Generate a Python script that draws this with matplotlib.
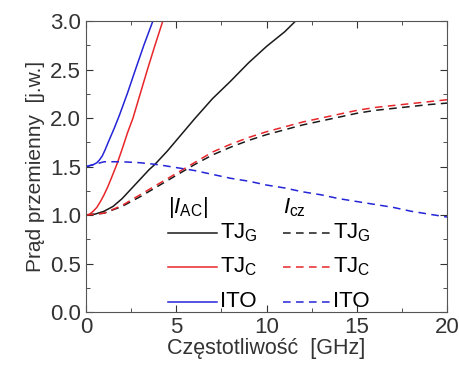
import matplotlib
matplotlib.use('Agg')
import matplotlib.pyplot as plt
from matplotlib.ticker import MultipleLocator

plt.rcParams['font.family'] = ['Liberation Sans', 'DejaVu Sans']
plt.rcParams['mathtext.fontset'] = 'custom'
plt.rcParams['mathtext.rm'] = 'Liberation Sans'
plt.rcParams['mathtext.it'] = 'Liberation Sans:italic'

# |I_AC| solid curves
f_tjg = [0, 0.5, 1, 1.5, 2, 2.5, 3, 3.5, 3.8, 4.5, 5, 6, 7, 7.5, 8, 9, 10, 11, 11.6]
a_tjg = [1.0, 1.01, 1.04, 1.09, 1.17, 1.27, 1.37, 1.47, 1.52, 1.66, 1.77, 1.99, 2.2, 2.29, 2.38, 2.57, 2.74, 2.89, 3.0]
f_tjc = [0, 0.2, 0.4, 0.6, 0.8, 1.0, 1.2, 1.4, 1.7, 2.0, 2.3, 2.6, 3.0, 3.4, 3.8, 4.25]
a_tjc = [1.0, 1.01, 1.04, 1.08, 1.14, 1.21, 1.29, 1.38, 1.52, 1.68, 1.85, 2.0, 2.25, 2.5, 2.74, 3.0]
f_ito = [0, 0.2, 0.4, 0.6, 0.75, 0.9, 1.05, 1.25, 1.55, 1.85, 2.3, 2.7, 3.2, 3.7]
a_ito = [1.5, 1.51, 1.52, 1.54, 1.57, 1.61, 1.67, 1.76, 1.89, 2.03, 2.26, 2.48, 2.75, 3.0]

# I_cz dashed curves
f_cz = [0, 1, 2, 3, 4, 5, 6, 7, 8, 9, 10, 11, 12, 13, 14, 15, 16, 17, 18, 19, 20]
c_tjg = [1.0, 1.02, 1.09, 1.19, 1.3, 1.41, 1.52, 1.62, 1.7, 1.77, 1.83, 1.88, 1.93, 1.97, 2.01, 2.05, 2.08, 2.1, 2.12, 2.14, 2.155]
c_tjc = [1.0, 1.02, 1.1, 1.21, 1.32, 1.43, 1.54, 1.65, 1.73, 1.8, 1.86, 1.91, 1.96, 2.0, 2.04, 2.08, 2.11, 2.13, 2.15, 2.17, 2.19]
c_ito = [1.5, 1.55, 1.55, 1.54, 1.52, 1.49, 1.46, 1.42, 1.38, 1.35, 1.31, 1.28, 1.24, 1.21, 1.17, 1.14, 1.11, 1.08, 1.04, 1.01, 0.98]

labels = ['TJ$_\\mathrm{G}$', 'TJ$_\\mathrm{C}$', 'ITO']
colors = ['#1a1a1a', '#e8262a', '#2424d8']
dash = (0, (5, 3.5))

fig = plt.figure(figsize=(4.6, 3.65), dpi=100)
ax = fig.add_axes([0.187, 0.145, 0.785, 0.797])

ax.plot(f_tjg, a_tjg, color=colors[0], lw=1.1)
ax.plot(f_tjc, a_tjc, color=colors[1], lw=1.1)
ax.plot(f_ito, a_ito, color=colors[2], lw=1.1)
ax.plot(f_cz, c_tjg, color=colors[0], lw=1.1, ls=dash)
ax.plot(f_cz, c_tjc, color=colors[1], lw=1.1, ls=dash)
ax.plot(f_cz, c_ito, color=colors[2], lw=1.1, ls=dash)

ax.set_xlim(0, 20)
ax.set_ylim(0, 3.0)
ax.xaxis.set_major_locator(MultipleLocator(5))
ax.xaxis.set_minor_locator(MultipleLocator(2.5))
ax.yaxis.set_major_locator(MultipleLocator(0.5))
ax.yaxis.set_minor_locator(MultipleLocator(0.25))
ax.tick_params(which='both', direction='in', top=True, right=True, labelsize=16, colors='#333333')
ax.tick_params(which='major', length=5)
ax.tick_params(which='minor', length=3)
for s in ax.spines.values():
    s.set_color('#555555')
ax.set_xlabel('Częstotliwość  [GHz]', fontsize=15.5, labelpad=0, color='#333333')
ax.set_ylabel('Prąd przemienny  [j.w.]', fontsize=15, labelpad=4, color='#333333')

# manual two-column legend
ax.text(0.228, 0.36, '$|I_{\\mathrm{AC}}|$', transform=ax.transAxes, fontsize=16, va='center')
ax.text(0.545, 0.36, '$I_{\\mathrm{cz}}$', transform=ax.transAxes, fontsize=16, va='center')
rows = [0.272, 0.155, 0.036]
for i in range(3):
    y = rows[i]
    ax.plot([0.228, 0.362], [y, y], color=colors[i], lw=1.1, transform=ax.transAxes)
    ax.text(0.37, y, labels[i], transform=ax.transAxes, fontsize=16, va='center')
    ax.plot([0.545, 0.677], [y, y], color=colors[i], lw=1.1, ls=dash, transform=ax.transAxes)
    ax.text(0.685, y, labels[i], transform=ax.transAxes, fontsize=16, va='center')

fig.savefig('out.png', dpi=100)
